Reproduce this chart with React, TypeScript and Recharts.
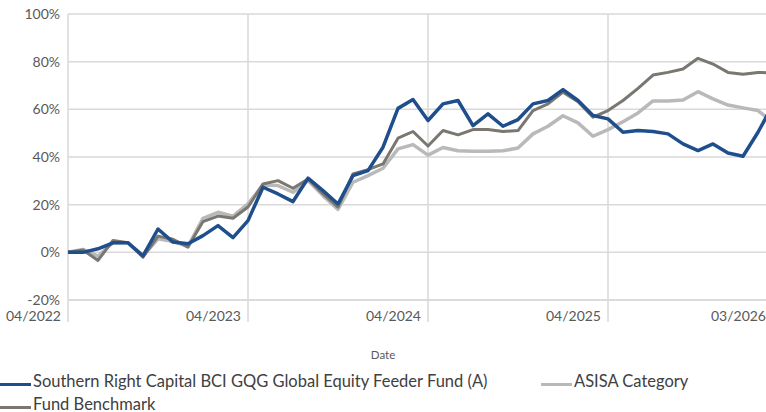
import React from 'react';
import { LineChart, Line, XAxis, YAxis, CartesianGrid, Legend } from 'recharts';

const months = [
  '04/2022','05/2022','06/2022','07/2022','08/2022','09/2022','10/2022','11/2022','12/2022','01/2023','02/2023','03/2023',
  '04/2023','05/2023','06/2023','07/2023','08/2023','09/2023','10/2023','11/2023','12/2023','01/2024','02/2024','03/2024',
  '04/2024','05/2024','06/2024','07/2024','08/2024','09/2024','10/2024','11/2024','12/2024','01/2025','02/2025','03/2025',
  '04/2025','05/2025','06/2025','07/2025','08/2025','09/2025','10/2025','11/2025','12/2025','01/2026','02/2026','03/2026',
];

const fundValues = [
  0, 0, 1.5, 4, 4, -1.5, 9.8, 4.3, 3.6, 7, 11.2, 6.2,
  13.3, 27.3, 24.5, 21.3, 31.1, 25.9, 20.3, 32.2, 34.3, 44.1, 60.4, 64.1,
  55.3, 62.3, 63.7, 53.2, 58.1, 52.9, 55.7, 62.3, 63.7, 68.3, 63.7, 57.4,
  56, 50.4, 51.1, 50.7, 49.7, 45.5, 42.7, 45.5, 41.7, 40.3, 50.4, 62,
];

const categoryValues = [
  0, 1.2, -1.6, 4, 4, -1.5, 5.7, 4.5, 2.5, 14.3, 16.8, 15.2,
  20.3, 28.3, 28, 25.2, 30.1, 23.8, 18, 29.4, 32.2, 35.3, 43.4, 45.2,
  40.8, 44, 42.6, 42.4, 42.4, 42.6, 43.8, 49.7, 52.9, 57.3, 54.3, 48.7,
  51.5, 54.8, 58.5, 63.5, 63.5, 63.9, 67.4, 64.4, 61.8, 60.6, 59.5, 54.5,
];

const benchmarkValues = [
  0, 1, -3.4, 5, 4, -2, 6.8, 5.5, 2.2, 12.9, 15.2, 14.3,
  19, 28.7, 30.1, 26.9, 30.8, 24.5, 19, 32.9, 34.7, 37.1, 47.9, 50.7,
  44.6, 51.1, 49.3, 51.5, 51.5, 50.7, 51.1, 59.5, 62.3, 67.2, 63.2, 56.7,
  59.5, 63.7, 68.8, 74.4, 75.5, 76.9, 81.4, 79, 75.5, 74.7, 75.5, 75.3,
];

const xTickIndices = [0, 12, 24, 36, 47];
const yTicks = [-20, 0, 20, 40, 60, 80, 100];

const FUND = 'Southern Right Capital BCI GQG Global Equity Feeder Fund (A)';
const CATEGORY = 'ASISA Category';
const BENCH = 'Fund Benchmark';

const data = months.map((m, i) => ({
  idx: i,
  month: m,
  fund: fundValues[i],
  category: categoryValues[i],
  bench: benchmarkValues[i],
}));

const FONT = 'Lato, "Open Sans", sans-serif';

const XTick = (props: any) => {
  const { x, y, payload } = props;
  return (
    <text x={x - 7} y={y - 8} dy="0.355em" textAnchor="end" fill="#595959" fontSize={14} fontFamily={FONT}>
      {months[payload.value]}
    </text>
  );
};

const LegendContent = () => {
  const item = (left: number, top: number, color: string, label: string) => (
    <div key={label} style={{ position: 'absolute', left, top, height: 20, display: 'flex', alignItems: 'center' }}>
      <div style={{ width: 31, height: 3, background: color, marginTop: 6, marginRight: 2 }} />
      <span style={{ fontFamily: FONT, fontSize: 16.5, color: '#404040', whiteSpace: 'nowrap', lineHeight: '20px' }}>{label}</span>
    </div>
  );
  return (
    <div style={{ position: 'relative', width: 766, height: 412 }}>
      <div style={{ position: 'absolute', left: 0, width: 766, top: 348, textAlign: 'center', fontFamily: FONT, fontSize: 11.5, color: '#595959' }}>Date</div>
      {item(0, 371, '#1F4E8C', FUND)}
      {item(541, 371, '#B9B9B9', CATEGORY)}
      {item(0, 394, '#7A7670', BENCH)}
    </div>
  );
};

export default function App() {
  return (
    <div style={{ position: 'absolute', left: 0, top: 0, width: 766, height: 412, overflow: 'hidden', background: '#fff' }}>
      <LineChart width={790} height={412} data={data} margin={{ top: 14, right: 17, bottom: 52, left: 0 }}>
        <CartesianGrid stroke="#d9d9d9" strokeWidth={1.5} />
        <XAxis
          dataKey="idx"
          type="number"
          domain={[0, 47]}
          ticks={xTickIndices}
          interval={0}
          height={60}
          tickSize={22}
          tickLine={{ stroke: '#d9d9d9', strokeWidth: 1.5 }}
          axisLine={{ stroke: '#d9d9d9', strokeWidth: 1.5 }}
          tick={<XTick />}
        />
        <YAxis
          type="number"
          domain={[-20, 100]}
          ticks={yTicks}
          width={68}
          axisLine={false}
          tickLine={false}
          tickFormatter={(v: number) => `${v}%`}
          tick={{ fill: '#595959', fontSize: 14, fontFamily: FONT }}
        />
        <Legend layout="horizontal" verticalAlign="middle" align="center" content={<LegendContent />}
          wrapperStyle={{ top: 0, left: 0, width: 766, height: 412, pointerEvents: 'none' }} />
        <Line dataKey="category" name={CATEGORY} stroke="#B9B9B9" strokeWidth={3.5} dot={false} isAnimationActive={false} strokeLinejoin="round" />
        <Line dataKey="bench" name={BENCH} stroke="#7A7670" strokeWidth={3} dot={false} isAnimationActive={false} strokeLinejoin="round" />
        <Line dataKey="fund" name={FUND} stroke="#1F4E8C" strokeWidth={3.5} dot={false} isAnimationActive={false} strokeLinejoin="round" />
      </LineChart>
    </div>
  );
}
